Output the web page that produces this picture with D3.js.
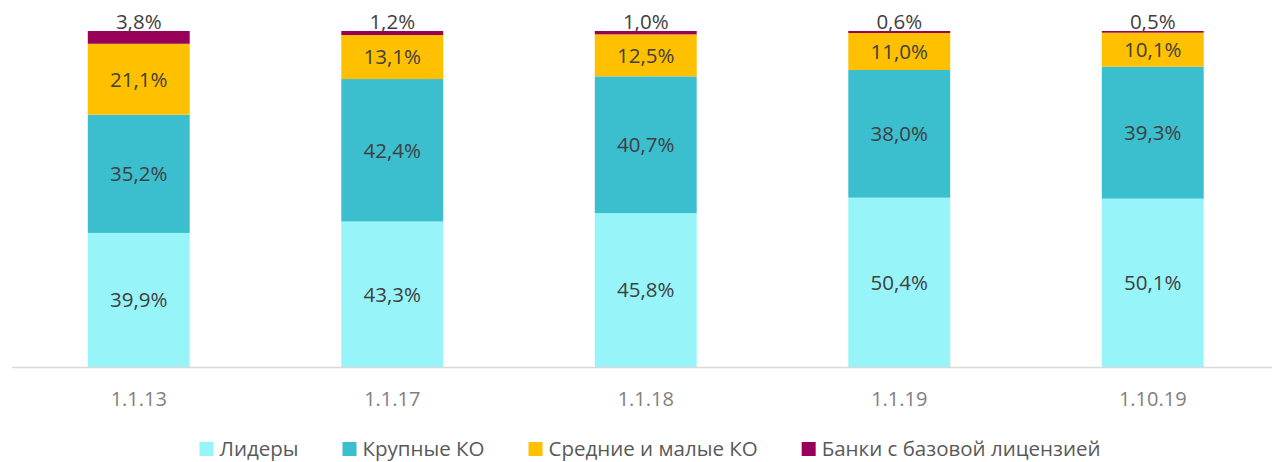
<!DOCTYPE html>
<html><head><meta charset="utf-8">
<script src="https://cdn.jsdelivr.net/npm/d3@7"></script>
<style>html,body{margin:0;padding:0;background:#fff;}svg{display:block;}</style>
</head><body>
<svg id="chart" width="1272" height="462"></svg>
<script>
const categories = ["1.1.13", "1.1.17", "1.1.18", "1.1.19", "1.10.19"];
const seriesNames = ["Лидеры", "Крупные КО", "Средние и малые КО", "Банки с базовой лицензией"];
const leaders = [39.9, 43.3, 45.8, 50.4, 50.1];
const large = [35.2, 42.4, 40.7, 38.0, 39.3];
const medium = [21.1, 13.1, 12.5, 11.0, 10.1];
const basic = [3.8, 1.2, 1.0, 0.6, 0.5];
const colors = ["#97F5F9", "#3BBECE", "#FFC000", "#990057"];

const font = "'Open Sans', sans-serif";
const svg = d3.select("#chart");
const W = 1272, baseY = 367, topY = 31;

const data = categories.map((c, i) => ({cat: c, s0: leaders[i], s1: large[i], s2: medium[i], s3: basic[i]}));
const keys = ["s0", "s1", "s2", "s3"];
const stack = d3.stack().keys(keys)(data);

const x = d3.scaleBand().domain(categories).range([12, 1279.5]).paddingInner(0.598).paddingOuter(0.299);
const y = d3.scaleLinear().domain([0, 100]).range([baseY, topY]);
const fmt = v => v.toFixed(1).replace(".", ",") + "%";

stack.forEach((layer, li) => {
  const g = svg.append("g");
  g.selectAll("rect").data(layer).enter().append("rect")
    .attr("x", d => x(d.data.cat))
    .attr("width", x.bandwidth())
    .attr("y", d => y(d[1]))
    .attr("height", d => y(d[0]) - y(d[1]))
    .attr("fill", colors[li]);
  g.selectAll("text").data(layer).enter().append("text")
    .attr("x", d => x(d.data.cat) + x.bandwidth() / 2)
    .attr("y", d => li === 3 ? y(d[1]) - 2 : (y(d[0]) + y(d[1])) / 2)
    .attr("dy", li === 3 ? 0 : "0.36em")
    .attr("text-anchor", "middle")
    .attr("font-family", font).attr("font-size", 20.5)
    .attr("fill", "#404040")
    .text(d => fmt(d[1] - d[0]));
});

// axis
const axis = d3.axisBottom(x).tickSize(0).tickPadding(0);
const ag = svg.append("g").attr("transform", `translate(0,${baseY})`).call(axis);
ag.select(".domain").remove();
svg.append("line").attr("x1", 12).attr("x2", W).attr("y1", baseY + 0.5).attr("y2", baseY + 0.5)
  .attr("stroke", "#D9D9D9").attr("stroke-width", 1.3);
ag.selectAll("text").attr("font-family", font).attr("font-size", 20).attr("fill", "#7F7F7F")
  .attr("dy", null).attr("y", 39);

// legend
const lg = svg.append("g");
const items = seriesNames.map((n, i) => {
  const it = lg.append("g");
  it.append("rect").attr("x", 0).attr("y", 442).attr("width", 14).attr("height", 14).attr("fill", colors[i]);
  const t = it.append("text").attr("x", 20).attr("y", 456).attr("font-family", font).attr("font-size", 20.5)
    .attr("fill", "#595959").text(n);
  return {it, w: 20 + t.node().getComputedTextLength()};
});
const gap = 44;
const total = d3.sum(items, d => d.w) + gap * (items.length - 1);
let cx = 650 - total / 2;
items.forEach(d => { d.it.attr("transform", `translate(${cx},0)`); cx += d.w + gap; });
</script>
</body></html>
